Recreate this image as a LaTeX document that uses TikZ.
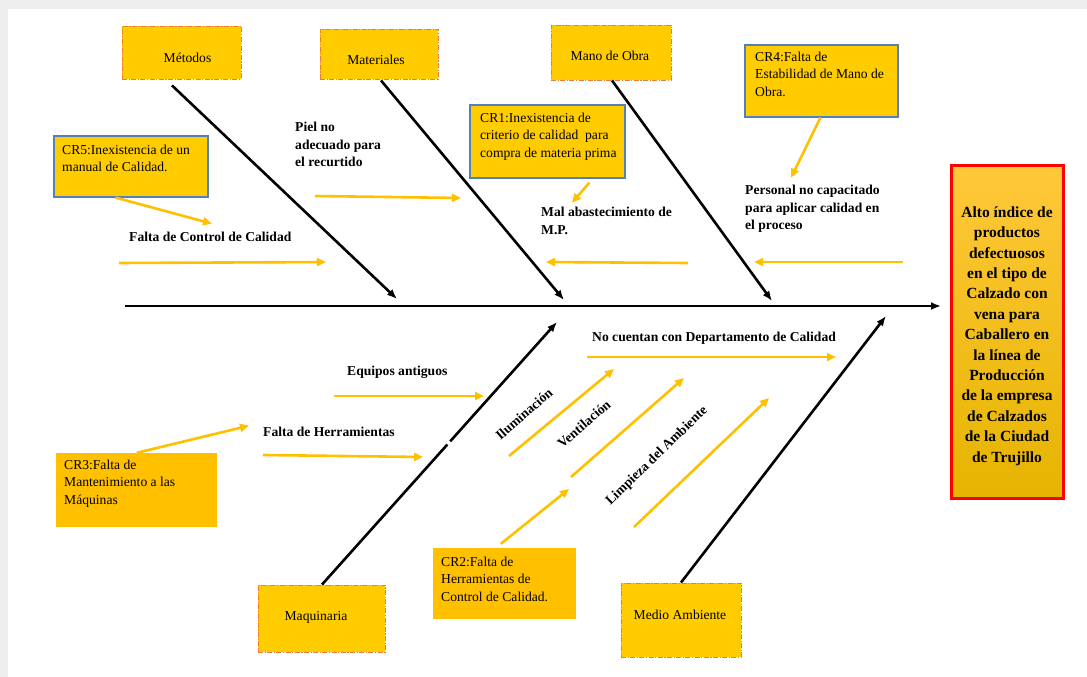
\documentclass[tikz,border=0pt]{standalone}
\usepackage{fontspec}
\setmainfont{Liberation Serif}
\usetikzlibrary{arrows.meta}

\definecolor{boxyellow}{RGB}{255,204,0}
\definecolor{boxamber}{RGB}{255,192,0}
\definecolor{arrowyellow}{RGB}{255,192,0}
\definecolor{dashorange}{RGB}{237,125,49}
\definecolor{crblue}{RGB}{84,128,184}
\definecolor{pagegray}{RGB}{238,238,238}
\definecolor{effecttop}{RGB}{255,200,58}
\definecolor{effectbottom}{RGB}{230,180,0}

\tikzset{
  catbox/.style={rectangle, draw=dashorange, fill=boxyellow, line width=0.9pt,
    dash pattern=on 5pt off 1.5pt on 1.2pt off 1.5pt, inner sep=0pt},
  crbox/.style={rectangle, draw=crblue, fill=boxyellow, line width=1.1pt, inner sep=0pt},
  plainbox/.style={rectangle, fill=boxamber, inner sep=0pt},
  cattext/.style={font=\fontsize{13.6}{17.6}\selectfont, inner sep=0pt},
  boxtext/.style={font=\fontsize{13.6}{17.6}\selectfont, align=left, inner sep=0pt, anchor=north west},
  cause/.style={font=\bfseries\fontsize{13.6}{17.8}\selectfont, align=left, inner sep=0pt, anchor=north west},
  slanted/.style={font=\bfseries\fontsize{13.6}{17.8}\selectfont, inner sep=0pt},
  effecttext/.style={font=\bfseries\fontsize{15.5}{20.4}\selectfont, align=center, inner sep=0pt},
  bone/.style={draw=black, line width=2.6pt, -{Latex[length=10pt,width=8pt]}},
  spine/.style={draw=black, line width=2.8pt, -{Latex[length=10pt,width=8pt]}},
  yarrow/.style={draw=arrowyellow, line width=2.6pt, -{Triangle[length=9pt,width=8pt]}},
}

\begin{document}
\begin{tikzpicture}[x=1pt,y=-1pt]
  \useasboundingbox (0,0) rectangle (1087,677);
  % page
  \fill[pagegray] (0,0) rectangle (1087,677);
  \fill[white] (8,9) rectangle (1087,677);

  % effect
  \node[rectangle, draw=red, line width=3pt, top color=effecttop, bottom color=effectbottom,
        minimum width=112pt, minimum height=333pt, inner sep=0pt] (efecto) at (1007,331.5) {};
  \node[effecttext] (efectoT) at (1007,336)
    {Alto índice de\\productos\\defectuosos\\en el tipo de\\Calzado con\\vena para\\Caballero en\\la línea de\\Producción\\de la empresa\\de Calzados\\de la Ciudad\\de Trujillo};

  % spine
  \coordinate (spineL) at (125,306);
  \coordinate (spineR) at (941,306);
  \draw[spine] (spineL) -- (spineR);

  % category boxes
  \node[catbox, minimum width=119pt, minimum height=53pt] (metodos) at (181.5,52.5) {};
  \node[cattext] (metodosT) at (187.5,58) {Métodos};
  \node[catbox, minimum width=118pt, minimum height=50pt] (materiales) at (379,54) {};
  \node[cattext] (materialesT) at (376,60) {Materiales};
  \node[catbox, minimum width=120pt, minimum height=55pt] (manoobra) at (611,52.5) {};
  \node[cattext] (manoobraT) at (610,56) {Mano de Obra};
  \node[catbox, minimum width=127pt, minimum height=67pt] (maquinaria) at (321.5,618.5) {};
  \node[cattext] (maquinariaT) at (316,617) {Maquinaria};
  \node[catbox, minimum width=120pt, minimum height=74pt] (medio) at (681,620) {};
  \node[cattext] (medioT) at (680,615) {Medio Ambiente};

  % root-cause boxes
  \node[crbox, minimum width=154pt, minimum height=61pt] (cr5) at (131,166.5) {};
  \node[boxtext] (cr5T) at (62,144.7) {CR5:Inexistencia de un\\manual de Calidad.};
  \node[crbox, minimum width=155pt, minimum height=73pt] (cr1) at (547.5,141.5) {};
  \node[boxtext] (cr1T) at (480,112.7) {CR1:Inexistencia de\\criterio de calidad\ \ para\\compra de materia prima};
  \node[crbox, minimum width=153pt, minimum height=72pt] (cr4) at (821.5,81) {};
  \node[boxtext] (cr4T) at (755,51.7) {CR4:Falta de\\Estabilidad de Mano de\\Obra.};
  \node[plainbox, minimum width=161pt, minimum height=74pt] (cr3) at (136.5,490) {};
  \node[boxtext] (cr3T) at (64,459.7) {CR3:Falta de\\Mantenimiento a las\\Máquinas};
  \node[plainbox, minimum width=143pt, minimum height=71pt] (cr2) at (504.5,583.5) {};
  \node[boxtext] (cr2T) at (441,556.7) {CR2:Falta de\\Herramientas de\\Control de Calidad.};

  % causes
  \node[cause] (piel) at (295,121.7) {Piel no\\adecuado para\\el recurtido};
  \node[cause] (fcc) at (129,231.7) {Falta de Control de Calidad};
  \node[cause] (mal) at (541,206.7) {Mal abastecimiento de\\M.P.};
  \node[cause] (personal) at (745,184.7) {Personal no capacitado\\para aplicar calidad en\\el proceso};
  \node[cause] (nocuentan) at (592,331.7) {No cuentan con Departamento de Calidad};
  \node[cause] (equipos) at (347,365.7) {Equipos antiguos};
  \node[cause] (faltaherr) at (263,426.7) {Falta de Herramientas};
  \node[slanted, rotate=41] (ilum) at (524,414) {Iluminación};
  \node[slanted, rotate=41] (vent) at (584,424) {Ventilación};
  \node[slanted, rotate=44] (limp) at (657,456) {Limpieza del Ambiente};

  % bone ends on the spine
  \coordinate (b1) at (397,299);
  \coordinate (b2) at (564,300);
  \coordinate (b3) at (772,301);
  \coordinate (b4) at (557,322);
  \coordinate (b5) at (886,316);

  % main bones
  \draw[bone] ([shift={(-9.5,6)}]metodos.south) -- (b1);
  \draw[bone] ([shift={(2,1)}]materiales.south) -- (b2);
  \draw[bone] ([shift={(1,0)}]manoobra.south) -- (b3);
  \draw[bone] ([shift={(0.5,0)}]maquinaria.north) -- (b4);
  \draw[bone] (medio.north) -- (b5);
  % small break in the machinery bone
  \draw[white, line width=5pt] (447.7,444.6) -- (450.3,441.6);

  % free arrow end points
  \coordinate (a2s) at (119,263);  \coordinate (a2e) at (326,262);
  \coordinate (a3s) at (315,196);  \coordinate (a3e) at (461,198);
  \coordinate (a5s) at (688,263);  \coordinate (a5e) at (546,262);
  \coordinate (a7s) at (903,262);  \coordinate (a7e) at (754,262);
  \coordinate (a9s) at (263,455);  \coordinate (a9e) at (423,457);
  \coordinate (a10s) at (334,396); \coordinate (a10e) at (484,396);
  \coordinate (a11s) at (587,357); \coordinate (a11e) at (836,357);
  \coordinate (a12s) at (509,456); \coordinate (a12e) at (614,369);
  \coordinate (a13s) at (571,477); \coordinate (a13e) at (684,378);
  \coordinate (a14s) at (634,527); \coordinate (a14e) at (769,398);
  \coordinate (a15e) at (569,489);

  % yellow arrows
  \draw[yarrow] ([xshift=62pt]cr5.south west) -- ([shift={(83,-8)}]fcc.north west);
  \draw[yarrow] (a2s) -- (a2e);
  \draw[yarrow] (a3s) -- (a3e);
  \draw[yarrow] ([shift={(120,4)}]cr1.south west) -- ([shift={(31,-4)}]mal.north west);
  \draw[yarrow] (a5s) -- (a5e);
  \draw[yarrow] ([xshift=76pt]cr4.south west) -- ([shift={(46,-7)}]personal.north west);
  \draw[yarrow] (a7s) -- (a7e);
  \draw[yarrow] ([xshift=81pt]cr3.north west) -- ([shift={(-14,-1)}]faltaherr.north west);
  \draw[yarrow] (a9s) -- (a9e);
  \draw[yarrow] (a10s) -- (a10e);
  \draw[yarrow] (a11s) -- (a11e);
  \draw[yarrow] (a12s) -- (a12e);
  \draw[yarrow] (a13s) -- (a13e);
  \draw[yarrow] (a14s) -- (a14e);
  \draw[yarrow] ([shift={(68,-4)}]cr2.north west) -- (a15e);
\end{tikzpicture}
\end{document}
